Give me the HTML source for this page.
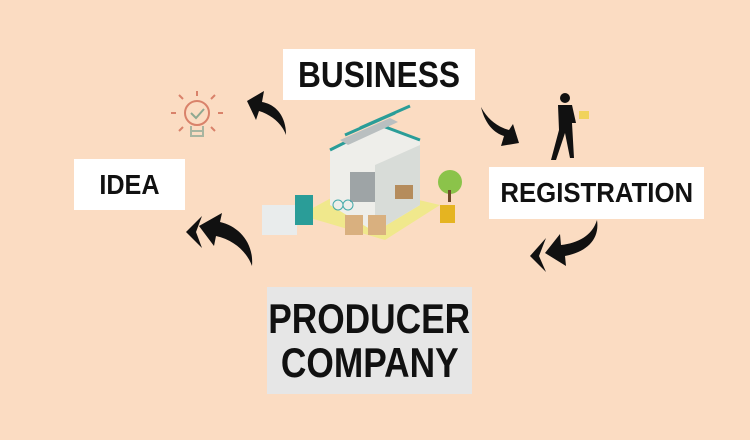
<!DOCTYPE html>
<html><head><meta charset="utf-8"><style>
body{margin:0;width:750px;height:440px;background:#fbdcc2;position:relative;overflow:hidden;font-family:"Liberation Sans",sans-serif;font-weight:bold;color:#111}
.b{position:absolute;background:#fff;display:flex;align-items:center;justify-content:center;}
.s{display:inline-block;white-space:nowrap}
</style></head><body>
<div class="b" style="left:283px;top:49px;width:192px;height:51px;font-size:36px"><span class="s" style="transform:scaleX(0.88)">BUSINESS</span></div>
<div class="b" style="left:74px;top:159px;width:111px;height:51px;font-size:28px"><span class="s" style="transform:scaleX(0.9)">IDEA</span></div>
<div class="b" style="left:489px;top:167px;width:215px;height:52px;font-size:28px"><span class="s" style="transform:scaleX(0.92)">REGISTRATION</span></div>
<div class="b" style="left:267px;top:287px;width:205px;height:107px;background:#e6e6e6;font-size:42px;line-height:44px;text-align:center;flex-direction:column"><span class="s" style="transform:scaleX(0.84)">PRODUCER</span><span class="s" style="transform:scaleX(0.84)">COMPANY</span></div>
<svg width="750" height="440" style="position:absolute;left:0;top:0">
<g stroke="#d9826a" stroke-width="2" fill="none">
<circle cx="197" cy="113" r="12"/><path d="M191 126v10h12v-10M191 131h12M191 136h12" stroke="#a8b5a0"/>
<path d="M191 113l5 5 8-9" stroke="#8fa890"/>
<path d="M176 113h-5M218 113h5M197 96v-5M183 99l-4-4M211 99l4-4M183 127l-4 4M211 127l4 4"/>
</g>
<path d="M286 135C286 114 274 104 262 102L264 91 247 101 256 120 259 111C272 115 282 124 286 135Z" fill="#111"/>
<path d="M481 107C485 124 494 133 504 136L501 146 519 143 513 124 509 130C498 127 488 120 481 107Z" fill="#111"/>
<path d="M252 266C254 242 238 226 220 222L222 213 199 226 214 246 216 236C234 240 247 252 252 266Z" fill="#111"/>
<path d="M202 216L186 232 202 248 196 232Z" fill="#111"/>
<path d="M597 220C600 240 586 252 565 256L566 266 545 253 560 234 561 245C578 243 592 236 597 220Z" fill="#111"/>
<path d="M546 238L530 256 546 272 539 256Z" fill="#111"/>
<g fill="#111"><circle cx="565" cy="98" r="5"/><path d="M558 105h14l4 18h-4l2 35h-4l-5-25-9 27h-5l8-30-1-25z"/></g>
<rect x="579" y="111" width="10" height="8" fill="#f1d35c"/>
<polygon points="300,215 355,185 440,205 385,240" fill="#f0e88c"/>
<polygon points="330,150 380,125 420,140 420,205 375,232 330,205" fill="#eeeeea"/>
<polygon points="375,165 420,145 420,205 375,232" fill="#d8dcd8"/>
<path d="M330 150l50-25 40 15M345 135l50-22M360 128l50-22" stroke="#2a9d98" stroke-width="3" fill="none"/>
<polygon points="340,140 390,118 398,122 348,145" fill="#b9bfc0"/>
<rect x="350" y="172" width="25" height="30" fill="#9ea4a6"/>
<rect x="395" y="185" width="18" height="14" fill="#b58c5c"/>
<circle cx="450" cy="182" r="12" fill="#8bc34a"/><rect x="448" y="190" width="3" height="12" fill="#6d4a2a"/>
<rect x="262" y="205" width="35" height="30" fill="#e9ecec"/><rect x="295" y="195" width="18" height="30" fill="#2a9d98"/>
<rect x="345" y="215" width="18" height="20" fill="#d9b07f"/><rect x="368" y="215" width="18" height="20" fill="#d9b07f"/>
<rect x="440" y="205" width="15" height="18" fill="#e5b421"/>
<circle cx="338" cy="205" r="5" stroke="#4aa" fill="none"/><circle cx="348" cy="205" r="5" stroke="#4aa" fill="none"/>
</svg>
</body></html>
